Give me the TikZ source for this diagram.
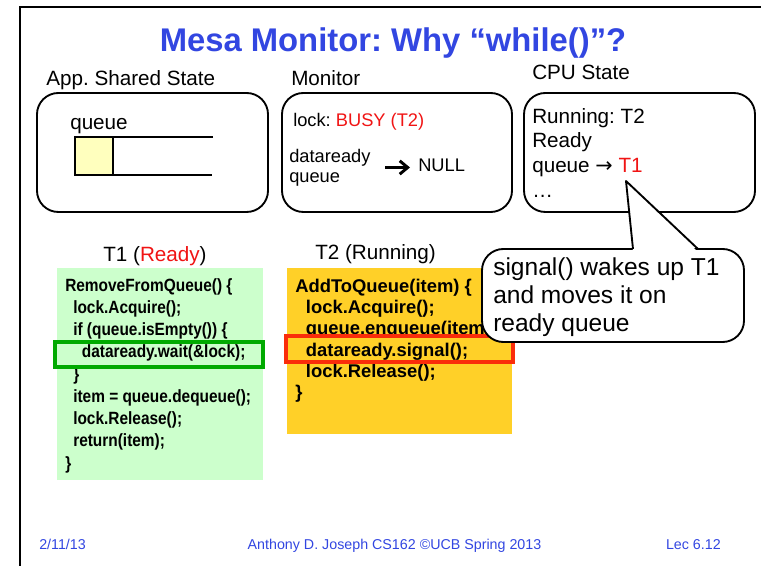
\documentclass[tikz,border=0pt]{standalone}
\usepackage{fontspec}
\setmainfont{Liberation Sans}
\newfontfamily\narrowcode[FakeStretch=0.87]{Liberation Sans}
\newfontfamily\arrowfont{DejaVu Sans}
\usetikzlibrary{arrows.meta}
\frenchspacing

\definecolor{slideblue}{RGB}{50,70,225}
\definecolor{busyred}{RGB}{240,20,20}
\definecolor{mintfill}{RGB}{204,255,204}
\definecolor{amberfill}{RGB}{255,208,40}
\definecolor{creamfill}{RGB}{255,255,190}
\definecolor{waitgreen}{RGB}{0,170,0}
\definecolor{signalred}{RGB}{250,45,10}

\tikzset{
  panel/.style={draw=black, line width=1.4pt, rounded corners=16pt},
  lbl/.style={anchor=base west, inner sep=0pt, font=\fontsize{15.5}{18}\selectfont},
  mon/.style={inner sep=0pt, font=\fontsize{13.7}{15}\selectfont},
  codeone/.style={anchor=north west, inner sep=0pt, align=left,
    font=\narrowcode\bfseries\fontsize{13.3}{16.7}\selectfont},
  codetwo/.style={anchor=north west, inner sep=0pt, align=left,
    font=\bfseries\fontsize{13.8}{16}\selectfont},
  footer/.style={inner sep=0pt, text=slideblue, font=\fontsize{10.7}{12}\selectfont},
  fatarrow/.style={-{Straight Barb[length=6pt,width=10pt]}, line width=2.2pt}
}

\begin{document}
\begin{tikzpicture}[x=0.75pt,y=-0.75pt]
  \useasboundingbox (0,0) rectangle (761,566);
  % slide frame
  \draw[line width=2.2pt] (20,566) -- (20,7) -- (761,7);
  \node[anchor=base, inner sep=0pt, text=slideblue,
    font=\bfseries\fontsize{24.6}{28}\selectfont] (title) at (393,52)
    {Mesa Monitor: Why “while()”?};

  % the three state panels
  \node[lbl] (shared) at (46,86) {App. Shared State};
  \node[lbl] (monitor) at (291,86) {Monitor};
  \node[lbl] (cpustate) at (532,80) {CPU State};
  \draw[panel] (37,93) rectangle (268,212);
  \draw[panel] (282,93) rectangle (512,212);
  \draw[panel] (524,93) rectangle (755,212);

  % shared queue
  \node[lbl] (qname) at (70,130) {queue};
  \draw[line width=1.5pt, fill=creamfill] (75,137) rectangle (113,175);
  \draw[line width=1.5pt] (213,137) -- (75,137) -- (75,175) -- (212,175);

  % monitor contents
  \node[mon, anchor=base west] (lock) at (293,127) {lock: \textcolor{busyred}{BUSY (T2)}};
  \node[mon, anchor=west, align=left] (ddq) at (289,167.5) {dataready\\queue};
  \node[mon, anchor=base west] (null) at (418,172) {NULL};
  \draw[fatarrow, shorten <=11pt, shorten >=6pt] (ddq.east) -- (ddq.east -| null.west);

  % cpu contents
  \node[anchor=north west, inner sep=0pt, align=left,
    font=\fontsize{15.5}{18.5}\selectfont] (cpu) at (532,108)
    {Running: T2\\Ready\\queue {\arrowfont →} \textcolor{busyred}{T1}\\…};

  % thread code
  \node[lbl] (t1lbl) at (103,262) {T1 (\textcolor{busyred}{Ready})};
  \node[lbl] (t2lbl) at (315,260) {T2 (Running)};
  \fill[mintfill] (57,268) rectangle (263,480);
  \fill[amberfill] (287,268) rectangle (512,434);
  \node[codeone] (t1code) at (65,278) {RemoveFromQueue() \{\\
    \hspace*{6pt}lock.Acquire();\\
    \hspace*{6pt}if (queue.isEmpty()) \{\\
    \hspace*{12.5pt}dataready.wait(\&lock);\\
    \hspace*{6pt}\}\\
    \hspace*{6pt}item = queue.dequeue();\\
    \hspace*{6pt}lock.Release();\\
    \hspace*{6pt}return(item);\\
    \}};
  \node[codetwo] (t2code) at (295,278.6) {AddToQueue(item) \{\\
    \hspace*{8pt}lock.Acquire();\\
    \hspace*{8pt}queue.enqueue(item);\\
    \hspace*{8pt}dataready.signal();\\
    \hspace*{8pt}lock.Release();\\
    \}};
  \draw[waitgreen, line width=3pt] (55,342) rectangle (263,367);
  \draw[signalred, line width=3pt] (286,336) rectangle (513,362);

  % callout
  \coordinate (tip) at (626,181);
  \draw[panel, fill=white] (482,249) rectangle (744,342);
  \fill[white] (633,252) -- (tip) -- (698,252) -- cycle;
  \draw[line width=1.4pt, line join=round] (633,249) -- (tip) -- (698,249);
  \node[anchor=north west, inner sep=0pt, align=left,
    font=\fontsize{18.4}{21}\selectfont] (note) at (493,257)
    {signal() wakes up T1\\and moves it on\\ready queue};

  % footer
  \node[footer, anchor=base west] (date) at (39,550) {2/11/13};
  \node[footer, anchor=base] (credit) at (394.5,550) {Anthony D. Joseph CS162 ©UCB Spring 2013};
  \node[footer, anchor=base east] (lec) at (721,550) {Lec 6.12};
\end{tikzpicture}
\end{document}
